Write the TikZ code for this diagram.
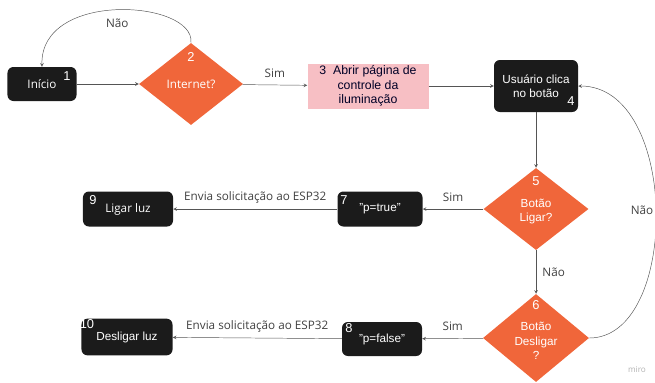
\documentclass[tikz,border=0pt]{standalone}
\usepackage{fontspec}
\setmainfont{Liberation Sans}
\newfontfamily\lblfont{Open Sans}
\usetikzlibrary{shapes.geometric,arrows,calc,positioning}
\definecolor{boxblack}{HTML}{1B1B1B}
\definecolor{decorange}{HTML}{F0663A}
\definecolor{pagepink}{HTML}{F7BFC4}
\definecolor{linegray}{HTML}{555555}
\definecolor{lblgray}{HTML}{404040}
\begin{document}
\begin{tikzpicture}[x=0.03cm, y=-0.03cm, >=stealth, font=\fontsize{10}{12}\selectfont]
   \useasboundingbox (0,0) rectangle (655,382);
   \begin{scope}[every node/.style={rectangle,rounded corners=5pt,fill=boxblack,text=white,align=center,inner sep=0pt}]
    \node (v1) [minimum width=2.07cm, minimum height=1.02cm] at (42,84) {\lblfont Início};
    \node (v4) [minimum width=2.52cm, minimum height=1.56cm] at (536,86) {Usuário clica\\no botão\hspace{1.5em}};
    \node (v7) [minimum width=2.55cm, minimum height=1.05cm] at (380,209) {\raisebox{-2pt}{"p=true"}};
    \node (v8) [minimum width=2.40cm, minimum height=1.02cm] at (382,339) {\raisebox{-2pt}{"p=false"}};
    \node (v9) [minimum width=2.70cm, minimum height=1.05cm] at (128,209) {\lblfont Ligar luz};
    \node (v10) [minimum width=2.73cm, minimum height=1.10cm] at (127,337) {Desligar luz};
   \end{scope}
   \begin{scope}[every node/.style={diamond,fill=decorange,text=white,align=center,inner sep=0pt}]
    \node (v2) [minimum width=3.12cm, minimum height=2.46cm] at (191,84) {\lblfont Internet?};
    \node (v5) [minimum width=3.15cm, minimum height=2.46cm] at (536,209) {\\Botão\\Ligar?};
    \node (v6) [minimum width=3.18cm, minimum height=2.64cm] at (536,338) {\\Botão\\Desligar\\?};
   \end{scope}
   \node (v3) [rectangle,fill=pagepink,text=black!85!blue,align=center,inner sep=0pt,
      font=\fontsize{10.5}{12.5}\selectfont,
      minimum width=3.63cm, minimum height=1.35cm] at (368,86) {3\; Abrir página de\\controle da\\iluminação};
   % numbers
   \begin{scope}[every node/.style={text=white,font=\fontsize{11}{12}\selectfont,inner sep=0pt}]
    \node (n1) at (67,76) {1};
    \node (n2) at (191,57) {2};
    \node (n4) at (571,101) {4};
    \node (n5) at (536,181) {5};
    \node (n6) at (536,305) {6};
    \node (n7) at (344,200) {7};
    \node (n8) at (349,328) {8};
    \node (n9) at (93,200) {9};
    \node (n10) at (87,324) {10};
   \end{scope}
   \begin{scope}[->,linegray,every edge/.style={draw=linegray,thin},
      every node/.style={text=lblgray,font=\lblfont\fontsize{10}{12}\selectfont}]
    \draw (v1) edge (v2);
    \draw (v2) edge node[above=3pt]{Sim} (v3);
    \draw (v3) edge (v4);
    \draw (v4) edge (v5);
    \draw (v5) edge node[above=3pt]{Sim} (v7);
    \draw (v7) edge node[above=1pt]{Envia solicitação ao ESP32} (v9);
    \draw (v5) edge node[right=2pt]{Não} (v6);
    \draw (v6) edge node[above=3pt]{Sim} (v8);
    \draw (v8) edge node[above=1pt]{Envia solicitação ao ESP32} (v10);
    \draw (v2.north) .. controls (195,0) and (40,-10) .. (v1.north) node[pos=0.5,below=4pt]{Não};
    \draw (v6.east) .. controls (680,338) and (680,86) .. (v4.east);
    \node (nao6) at (642,210) {Não};
   \end{scope}
   \node (miro) [text=black!30,font=\lblfont\fontsize{7}{8}\selectfont] at (637,370) {miro};
\end{tikzpicture}
\end{document}
